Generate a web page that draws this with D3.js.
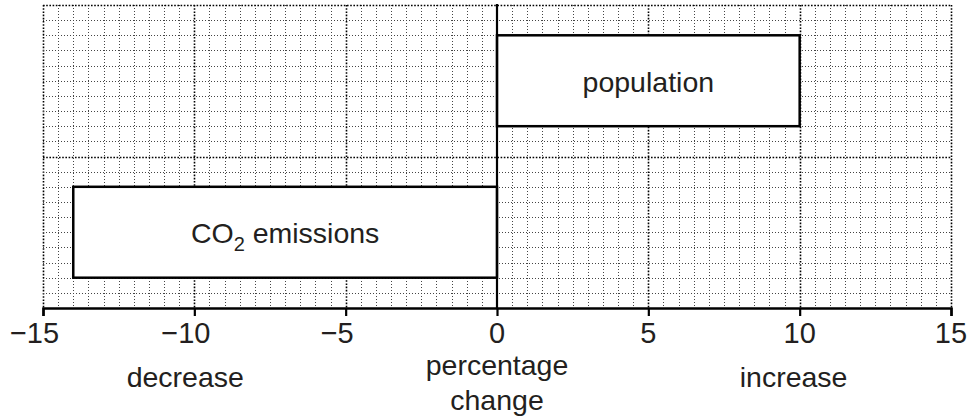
<!DOCTYPE html>
<html>
<head>
<meta charset="utf-8">
<script src="https://cdn.jsdelivr.net/npm/d3@7"></script>
<style>
  html, body { margin: 0; padding: 0; background: #fff; }
  svg { display: block; }
  text { font-family: "Liberation Sans", Arial, sans-serif; fill: #231f20; }
</style>
</head>
<body>
<svg id="chart" width="970" height="419"></svg>
<script>
// ---- data ----
const categories = ["population", "CO2 emissions"];
const startValues = [0, 0];
const endValues = [10, -14];
const rowLow = [6, 1];
const rowHigh = [9, 4];
const tickValues = [-15, -10, -5, 0, 5, 10, 15];
const sideLabels = ["decrease", "percentage|change", "increase"];
const sideLabelPositions = [-10.3, 0, 9.8];

const svg = d3.select("#chart");
const x = d3.scaleLinear().domain([-15, 15]).range([43, 951]);
const y = d3.scaleLinear().domain([0, 10]).range([308, 5]);

// ---- grid ----
const grid = svg.append("g");
const vLines = d3.range(-15, 15.001, 0.5);
const hLines = d3.range(0.5, 10.001, 0.5);
const isMajor = v => Math.abs(v / 5 - Math.round(v / 5)) < 1e-6;

grid.selectAll("line.v").data(vLines.filter(v => v !== 0)).join("line")
  .attr("x1", d => Math.round(x(d)) + 0.5).attr("x2", d => Math.round(x(d)) + 0.5)
  .attr("y1", y(10)).attr("y2", y(0))
  .attr("stroke", d => isMajor(d) ? "#000" : "#444")
  .attr("stroke-width", d => isMajor(d) ? 1.6 : 1)
  .attr("stroke-dasharray", d => isMajor(d) ? "1.6,1.6" : "1,2");

grid.selectAll("line.h").data(hLines).join("line")
  .attr("y1", d => Math.round(y(d)) + 0.5).attr("y2", d => Math.round(y(d)) + 0.5)
  .attr("x1", x(-15)).attr("x2", x(15))
  .attr("stroke", d => isMajor(d) ? "#000" : "#444")
  .attr("stroke-width", d => isMajor(d) ? 1.6 : 1)
  .attr("stroke-dasharray", d => isMajor(d) ? "1.6,1.6" : "1,2");

// ---- bars ----
const bars = svg.append("g");
categories.forEach((c, i) => {
  const x0 = Math.min(startValues[i], endValues[i]);
  const x1 = Math.max(startValues[i], endValues[i]);
  bars.append("rect")
    .attr("x", x(x0)).attr("y", y(rowHigh[i]))
    .attr("width", x(x1) - x(x0)).attr("height", y(rowLow[i]) - y(rowHigh[i]))
    .attr("fill", "#fff").attr("stroke", "#000").attr("stroke-width", 2.5);
});

// ---- zero line ----
svg.append("line")
  .attr("x1", x(0)).attr("x2", x(0)).attr("y1", y(10) - 1).attr("y2", y(0))
  .attr("stroke", "#000").attr("stroke-width", 2.2);

// ---- axis ----
const axis = svg.append("g").attr("transform", `translate(0,${y(0)})`)
  .call(d3.axisBottom(x).tickValues(tickValues).tickSize(8).tickFormat(""));
axis.select(".domain").attr("stroke", "#000").attr("stroke-width", 2.4);
axis.selectAll(".tick line").attr("stroke", "#000").attr("stroke-width", 2.2);

// tick labels: digits centered on tick, minus sign hanging left
tickValues.forEach(v => {
  const t = svg.append("text")
    .attr("x", x(v)).attr("y", 343)
    .attr("text-anchor", "middle")
    .style("font-size", "29px")
    .text(String(Math.abs(v)));
  if (v < 0) {
    const w = t.node().getComputedTextLength();
    svg.append("text")
      .attr("x", x(v) - w / 2).attr("y", 343)
      .attr("text-anchor", "end")
      .style("font-size", "29px")
      .text("\u2212");
  }
});

// ---- bar labels ----
categories.forEach((c, i) => {
  const cx = x((startValues[i] + endValues[i]) / 2);
  const cy = (y(rowLow[i]) + y(rowHigh[i])) / 2 + 11;
  const t = svg.append("text")
    .attr("x", cx).attr("y", cy)
    .attr("text-anchor", "middle")
    .style("font-size", "28.5px");
  if (c === "CO2 emissions") {
    t.append("tspan").text("CO");
    t.append("tspan").attr("dy", 8).style("font-size", "20px").text("2");
    t.append("tspan").attr("dy", -8).text(" emissions");
  } else {
    t.text(c);
  }
});

// ---- side labels ----
sideLabels.forEach((s, i) => {
  const lines = s.split("|");
  const t = svg.append("text")
    .attr("x", x(sideLabelPositions[i]))
    .attr("y", lines.length > 1 ? 375 : 387)
    .attr("text-anchor", "middle")
    .style("font-size", "28.5px");
  lines.forEach((l, j) => {
    t.append("tspan").attr("x", x(sideLabelPositions[i])).attr("dy", j === 0 ? 0 : 35).text(l);
  });
});
</script>
</body>
</html>
